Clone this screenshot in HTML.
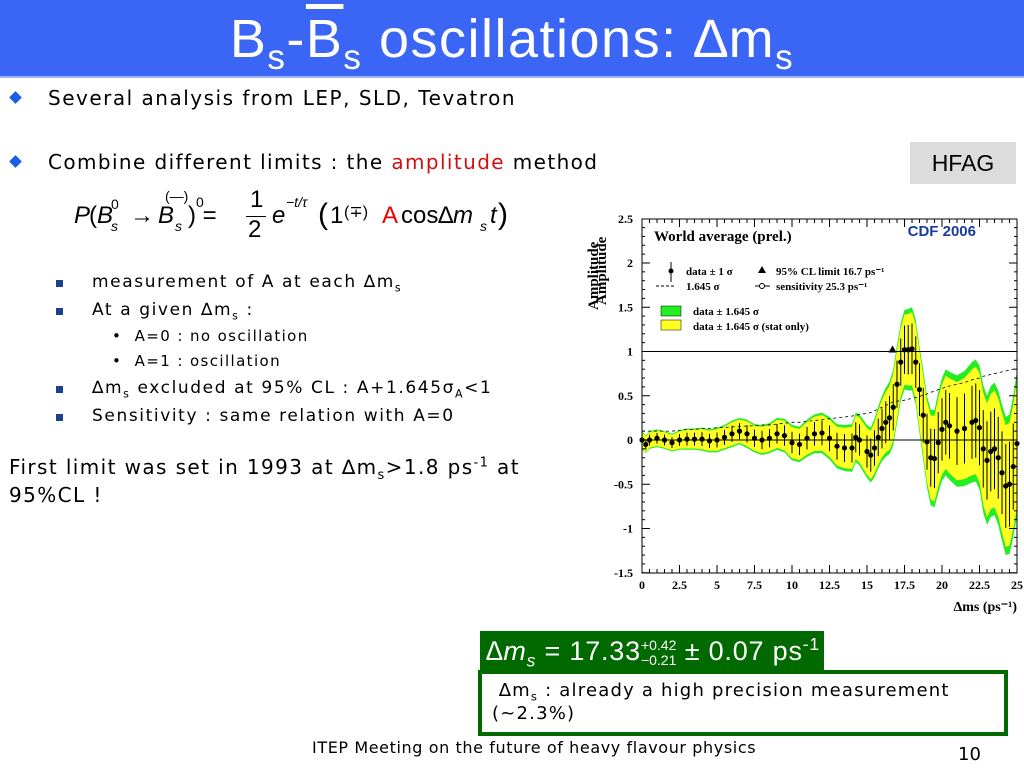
<!DOCTYPE html>
<html><head><meta charset="utf-8">
<style>
body{margin:0;width:1024px;height:768px;position:relative;overflow:hidden;background:#fff;font-family:"DejaVu Sans","Liberation Sans",sans-serif;color:#000}
.abs{position:absolute;white-space:nowrap}
.bul{position:absolute;width:9px;height:9px;background:#1a5ee8;transform:rotate(45deg)}
.sq{position:absolute;width:7px;height:7px;background:#1f3f8f}
sub,sup{font-size:65%;line-height:0}
.sub{font-size:17px;letter-spacing:1.6px}
</style></head><body>
<div class="abs" style="left:0;top:0;width:1024px;height:76px;background:#3b66f5"></div>
<div class="abs" style="left:0;top:8px;width:1024px;text-align:center;color:#fff;font-family:'Liberation Sans Narrow','Liberation Sans',sans-serif;font-size:54px;letter-spacing:1.5px">B<sub>s</sub>-<span style="text-decoration:overline">B</span><sub>s</sub> oscillations: &#8710;m<sub>s</sub></div>
<div class="abs" style="left:0;top:76px;width:1024px;height:2px;background:#9fb4ff"></div>

<div class="bul" style="left:11px;top:93px"></div>
<div class="abs" style="left:48px;top:86px;font-size:20px;letter-spacing:1.5px">Several analysis from LEP, SLD, Tevatron</div>
<div class="bul" style="left:11px;top:157px"></div>
<div class="abs" style="left:48px;top:150px;font-size:20px;letter-spacing:1.4px">Combine different limits : the <span style="color:#d01010">amplitude</span> method</div>
<div class="abs" style="left:910px;top:142px;width:106px;height:42px;background:#dcdcdc;font-family:'Liberation Sans',sans-serif;font-size:23px;line-height:42px;text-align:center">HFAG</div>

<div class="abs" style="left:74px;top:188px;font-family:'Liberation Sans',sans-serif;font-size:24px;height:60px">
<span style="position:absolute;top:14px;font-style:italic">P</span><span style="position:absolute;left:15px;top:14px">(<i>B</i></span><span style="position:absolute;left:37px;top:8px;font-size:14px">0</span><span style="position:absolute;left:37px;top:30px;font-size:14px;font-style:italic">s</span>
<span style="position:absolute;left:56px;top:14px">&#8594;</span><span style="position:absolute;left:84px;top:14px"><i>B</i></span><span style="position:absolute;left:91px;top:0px;font-size:14px">(&#8212;)</span><span style="position:absolute;left:122px;top:6px;font-size:14px">0</span><span style="position:absolute;left:101px;top:30px;font-size:14px;font-style:italic">s</span>
<span style="position:absolute;left:114px;top:14px">) =</span>
<span style="position:absolute;left:176px;top:-2px">1</span><span style="position:absolute;left:172px;top:28px;width:20px;height:1px;background:#000"></span><span style="position:absolute;left:174px;top:28px">2</span>
<span style="position:absolute;left:198px;top:14px;font-style:italic">e</span><span style="position:absolute;left:212px;top:6px;font-size:14px;font-style:italic">&#8722;t/&#964;</span>
<span style="position:absolute;left:244px;top:10px;font-size:30px">(</span><span style="position:absolute;left:256px;top:14px">1</span><span style="position:absolute;left:270px;top:14px;font-size:16px">(&#8723;)</span><span style="position:absolute;left:308px;top:14px;color:#e00">A</span><span style="position:absolute;left:327px;top:14px">cos&#8710;<i>m</i></span><span style="position:absolute;left:406px;top:30px;font-size:14px;font-style:italic">s</span><span style="position:absolute;left:416px;top:14px;font-style:italic">t</span><span style="position:absolute;left:424px;top:10px;font-size:30px">)</span>
</div>

<div class="sq" style="left:56px;top:280px"></div>
<div class="abs sub" style="left:92px;top:272px">measurement of A at each &#8710;m<sub>s</sub></div>
<div class="sq" style="left:56px;top:308px"></div>
<div class="abs sub" style="left:92px;top:300px">At a given &#8710;m<sub>s</sub> :</div>
<div class="abs" style="left:112px;top:327px;font-size:15px;letter-spacing:1.4px">&#8226;&nbsp;&nbsp;A=0 : no oscillation</div>
<div class="abs" style="left:112px;top:352px;font-size:15px;letter-spacing:1.4px">&#8226;&nbsp;&nbsp;A=1 : oscillation</div>
<div class="sq" style="left:56px;top:386px"></div>
<div class="abs sub" style="left:92px;top:378px">&#8710;m<sub>s</sub> excluded at 95% CL : A+1.645&#963;<sub>A</sub>&lt;1</div>
<div class="sq" style="left:56px;top:414px"></div>
<div class="abs sub" style="left:92px;top:406px">Sensitivity : same relation with A=0</div>
<div class="abs" style="left:9px;top:453px;font-size:20px;line-height:28px;letter-spacing:1.4px">First limit was set in 1993 at &#8710;m<sub>s</sub>&gt;1.8 ps<sup>-1</sup> at<br>95%CL !</div>

<svg class="abs" style="left:0;top:0" width="1024" height="768" id="chart"></svg>

<div class="abs" style="left:480px;top:631px;width:344px;height:41px;background:#006a00;color:#fff;font-family:'Liberation Sans',sans-serif;font-size:27px;line-height:41px;padding-left:6px;box-sizing:border-box;letter-spacing:0.8px"><i>&#8710;m<sub>s</sub></i> = 17.33<span style="display:inline-block;vertical-align:middle;font-size:14px;line-height:15px;text-align:left;letter-spacing:0">+0.42<br>&#8722;0.21</span> &#177; 0.07 ps<sup>-1</sup></div>
<div class="abs" style="left:478px;top:670px;width:530px;height:66px;border:4px solid #006a00;box-sizing:border-box;font-size:18px;line-height:23px;padding:5px 10px;white-space:normal;letter-spacing:1.2px">&nbsp;&#8710;m<sub>s</sub> : already a high precision measurement (~2.3%)</div>
<div class="abs" style="left:312px;top:738px;font-size:16px;letter-spacing:0.6px">ITEP Meeting on the future of heavy flavour physics</div>
<div class="abs" style="left:958px;top:744px;font-size:18px">10</div>

<script>
const ms   =[0,0.25,0.5,1,1.5,2,2.5,3,3.5,4,4.5,5,5.5,6,6.5,7,7.5,8,8.5,9,9.5,10,10.5,11,11.5,12,12.5,13,13.5,14,14.25,14.5,15,15.25,15.5,15.75,16,16.25,16.5,16.75,17,17.25,17.5,17.75,18,18.25,18.5,18.75,19,19.25,19.5,19.75,20,20.25,20.5,21,21.5,22,22.25,22.5,22.75,23,23.25,23.5,23.75,24,24.25,24.5,24.75,25];
const amp  =[0,-0.05,0,0.02,0,-0.03,0,0.01,0.01,0.01,-0.01,0,0.03,0.07,0.1,0.07,0.02,0,0.02,0.07,0.05,-0.03,-0.05,0.02,0.07,0.08,0.02,-0.07,-0.09,-0.09,0.03,0,-0.13,-0.17,-0.09,0.03,0.13,0.2,0.25,0.37,0.63,0.88,1.02,1.02,1.03,0.88,0.57,0.28,-0.02,-0.2,-0.21,-0.03,0.12,0.2,0.16,0.1,0.13,0.2,0.22,0.14,-0.1,-0.23,-0.13,-0.1,-0.2,-0.37,-0.52,-0.5,-0.3,-0.04];
const sens =[0.1,0.1,0.1,0.1,0.1,0.1,0.11,0.12,0.12,0.13,0.13,0.14,0.14,0.15,0.15,0.16,0.16,0.17,0.17,0.18,0.19,0.2,0.2,0.21,0.22,0.23,0.24,0.25,0.26,0.27,0.28,0.29,0.3,0.31,0.33,0.35,0.37,0.39,0.41,0.43,0.44,0.44,0.45,0.46,0.47,0.48,0.49,0.51,0.52,0.54,0.55,0.57,0.58,0.6,0.61,0.63,0.65,0.68,0.69,0.7,0.72,0.73,0.74,0.75,0.76,0.77,0.78,0.79,0.8,0.82];
const xTicks=[0,2.5,5,7.5,10,12.5,15,17.5,20,22.5,25];
const yTicks=[-1.5,-1,-0.5,0,0.5,1,1.5,2,2.5];
const X=v=>642+v*15, Y=v=>440-v*88.5;
const svg=document.getElementById('chart'), NS='http://www.w3.org/2000/svg';
function mk(t,a,p){const e=document.createElementNS(NS,t);for(const k in a)e.setAttribute(k,a[k]);(p||svg).appendChild(e);return e;}
const bg=mk('rect',{x:588,y:205,width:436,height:420,fill:'#fff'});


const sig=sens.map(s=>s/1.645);
function band(k){let up=ms.map((m,i)=>X(m)+','+Y(amp[i]+k*1.645*sig[i])).join(' ');let dn=ms.map((m,i)=>X(m)+','+Y(amp[i]-k*1.645*sig[i])).reverse().join(' ');return up+' '+dn;}
const g=mk('polygon',{points:band(1),fill:'#22ee22'});


const yl=mk('polygon',{points:band(0.88),fill:'#ffff22'});


[0,1].forEach(v=>{const l=mk('line',{x1:X(0),x2:X(25),y1:Y(v),y2:Y(v),stroke:'#000','stroke-width':1});

});
const d=mk('polyline',{points:ms.map((m,i)=>X(m)+','+Y(sens[i])).join(' '),fill:'none',stroke:'#000','stroke-dasharray':'3,3','stroke-width':0.8});


ms.forEach((m,i)=>{const e=mk('line',{x1:X(m),x2:X(m),y1:Y(amp[i]+sig[i]),y2:Y(amp[i]-sig[i]),stroke:'#000','stroke-width':1});


const c=mk('circle',{cx:X(m),cy:Y(amp[i]),r:2.6,fill:'#000'});

});
const tri=mk('polygon',{points:`${X(16.7)},${Y(1)-6} ${X(16.7)-4},${Y(1)+1} ${X(16.7)+4},${Y(1)+1}`,fill:'#000'});


const fr=mk('rect',{x:642,y:219,width:375,height:354,fill:'none',stroke:'#000','stroke-width':1});


for(let v=0;v<=25;v+=0.5){const big=v%2.5===0;const L=big?8:4;
mk('line',{x1:X(v),x2:X(v),y1:573,y2:573-L,stroke:'#000'});mk('line',{x1:X(v),x2:X(v),y1:219,y2:219+L,stroke:'#000'});}
for(let v=-1.5;v<=2.5;v+=0.1){const big=Math.abs(v*2-Math.round(v*2))<1e-6;const L=big?8:3;
mk('line',{x1:642,x2:642+L,y1:Y(v),y2:Y(v),stroke:'#000'});mk('line',{x1:1017,x2:1017-L,y1:Y(v),y2:Y(v),stroke:'#000'});}
xTicks.forEach(v=>{const t=mk('text',{x:X(v),y:589,'text-anchor':'middle','font-size':12,'font-weight':'bold','font-family':'Liberation Serif,serif'});t.textContent=v;

});
yTicks.forEach(v=>{const t=mk('text',{x:633,y:Y(v)+4,'text-anchor':'end','font-size':12,'font-weight':'bold','font-family':'Liberation Serif,serif'});t.textContent=v;

});
function txt(x,y,s,o,name){const t=mk('text',Object.assign({x:x,y:y,'font-family':'Liberation Serif,serif','font-weight':'bold','font-size':11},o||{}));t.textContent=s;

return t;}
txt(1017,611,'Δms (ps⁻¹)',{'text-anchor':'end','font-size':14},'x-axis-title');
txt(606,305,'Amplitude',{transform:'rotate(-90 606 305)','font-size':15},'y-axis-title');
txt(598,310,'Amplitude',{transform:'rotate(-90 598 310)','font-size':15},'y-axis-title-shadow');
txt(654,241,'World average (prel.)',{'font-size':15},'chart-title');
txt(976,236,'CDF 2006',{'font-family':'Liberation Sans,sans-serif','font-size':15,fill:'#1a3aa0','text-anchor':'end'},'cdf-label');
txt(686,275,'data ± 1 σ',{},'legend-data');
txt(686,290,'1.645 σ',{},'legend-dashed');
txt(776,275,'95% CL limit  16.7 ps⁻¹',{},'legend-limit');
txt(776,290,'sensitivity      25.3 ps⁻¹',{},'legend-sens');
txt(693,315,'data ± 1.645 σ',{},'legend-green');
txt(693,330,'data ± 1.645 σ (stat only)',{},'legend-yellow');
mk('line',{x1:671,x2:671,y1:262,y2:282,stroke:'#000'});mk('circle',{cx:671,cy:271,r:2.5});
mk('line',{x1:656,x2:675,y1:286,y2:286,stroke:'#000','stroke-dasharray':'3,2'});
mk('polygon',{points:'762,266 758,273 766,273'});
mk('line',{x1:755,x2:770,y1:286,y2:286,stroke:'#000'});mk('circle',{cx:762,cy:286,r:2.5,fill:'#fff',stroke:'#000'});
mk('rect',{x:661,y:306,width:20,height:10,fill:'#22ee22',stroke:'#000','stroke-width':0.5});
mk('rect',{x:661,y:320,width:20,height:10,fill:'#ffff22',stroke:'#000','stroke-width':0.5});
</script>
</body></html>
